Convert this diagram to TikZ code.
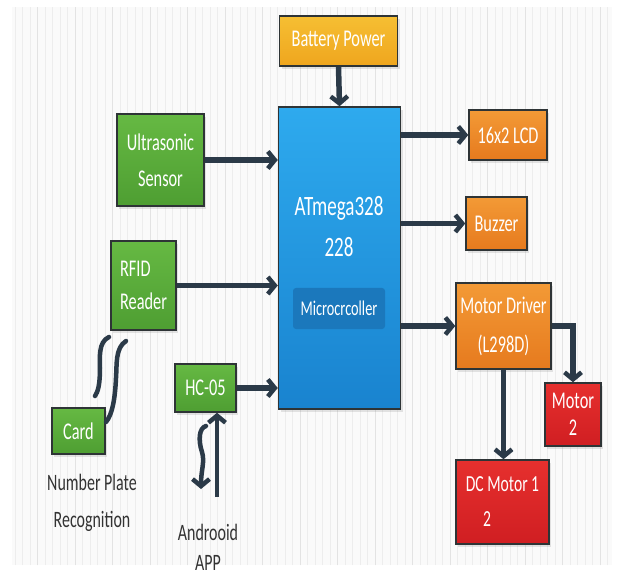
\documentclass[tikz,border=0pt]{standalone}
\usepackage{fontspec}
\setmainfont{Carlito}[FakeStretch=0.68]
\usetikzlibrary{arrows.meta,shadows}
\definecolor{arrowc}{HTML}{2B3A48}
\definecolor{edgec}{HTML}{2E3436}
\tikzset{
  blk/.style={draw=edgec, line width=1.5pt, text=white, align=center, inner sep=0pt,
    font=\fontsize{24}{34}\selectfont,
    drop shadow={opacity=0.2, shadow xshift=2pt, shadow yshift=-3pt}},
  greenbox/.style={blk, top color=green1, bottom color=green2},
  orangebox/.style={blk, top color=orange1, bottom color=orange2},
  yellowbox/.style={blk, top color=yellow1, bottom color=yellow2},
  redbox/.style={blk, top color=red1, bottom color=red2},
  arr/.style={draw=arrowc, line width=5.5pt, -{Straight Barb[length=7pt,width=17pt,line width=4.5pt]}},
  wire/.style={draw=arrowc, line width=4.5pt, line cap=round},
  lbl/.style={text=black!80, align=center, font=\fontsize{23.5}{37}\selectfont},
}
\definecolor{green1}{HTML}{66B943}
\definecolor{green2}{HTML}{4E9E32}
\definecolor{orange1}{HTML}{F39A36}
\definecolor{orange2}{HTML}{E67A1E}
\definecolor{yellow1}{HTML}{F6BF33}
\definecolor{yellow2}{HTML}{EFA61E}
\definecolor{red1}{HTML}{E6302E}
\definecolor{red2}{HTML}{D01E22}
\definecolor{blue1}{HTML}{2EAAEE}
\definecolor{blue2}{HTML}{1983CF}
\definecolor{blue3}{HTML}{1B78BC}
\begin{document}
\begin{tikzpicture}[x=1pt,y=-1pt]
\useasboundingbox (0,0) rectangle (621,577);
\fill[white] (0,0) rectangle (621,577);
\fill[black!2] (12,7) rectangle (612,565);
\draw[black!7, line width=0.4pt] (12,7) grid[step=7.5] (612,565);
\draw[black!11, line width=0.5pt] (12,7) grid[step=37.5] (612,565);

% nodes
\node[yellowbox, minimum width=118, minimum height=50] (bat) at (338.5,41) {Battery Power};
\node[blk, top color=blue1, bottom color=blue2, minimum width=122, minimum height=302] (mcu) at (339.5,258) {};
\node[text=white, align=center, font=\fontsize{28}{41}\selectfont] (mcutxt) at (339,227) {ATmega328\\228};
\node[fill=blue3, rounded corners=3pt, text=white, minimum width=92, minimum height=41, inner sep=0pt,
      font=\fontsize{21}{24}\selectfont] (micro) at (339,308.5) {Microcrcoller};
\node[greenbox, minimum width=87, minimum height=92, font=\fontsize{24}{36}\selectfont] (us) at (160.5,160) {Ultrasonic\\Sensor};
\node[greenbox, minimum width=65, minimum height=89, align=left, font=\fontsize{24}{33}\selectfont] (rfid) at (143.5,285.5) {RFID\\Reader};
\node[greenbox, minimum width=61, minimum height=48] (hc) at (205.5,388) {HC-05};
\node[greenbox, minimum width=53, minimum height=46] (card) at (78.5,431) {Card};
\node[orangebox, minimum width=78, minimum height=50] (lcd) at (508,135) {16x2 LCD};
\node[orangebox, minimum width=61, minimum height=53] (buz) at (496.5,223.5) {Buzzer};
\node[orangebox, minimum width=95, minimum height=86, font=\fontsize{24}{39}\selectfont] (md) at (503.5,326) {Motor Driver\\(L298D)};
\node[redbox, minimum width=56, minimum height=63, font=\fontsize{24}{27}\selectfont] (m2) at (573,414.5) {Motor\\2};
\node[redbox, minimum width=93, minimum height=84, align=left, font=\fontsize{23}{35}\selectfont] (dc) at (502.5,502) {DC Motor 1\\\hspace*{0.75em}2};
\node[lbl] (npr) at (92,503) {Number Plate\\Recognition};
\node[lbl, font=\fontsize{23.5}{30}\selectfont] (app) at (208,547) {Androoid\\APP};

% connectors
\draw[arr] (bat.south) -- (mcu.north);
\draw[arr] (us.east) -- (us.east -| mcu.west);
\draw[arr] (rfid.east) -- (rfid.east -| mcu.west);
\draw[arr] (hc.east) -- (hc.east -| mcu.west);
\draw[arr] (mcu.east |- lcd.west) -- (lcd.west);
\draw[arr] (mcu.east |- buz.west) -- (buz.west);
\draw[arr] (mcu.east |- md.west) -- (md.west);
\draw[arr] (md.east) -| (m2.north);
\draw[arr] (md.south) -- (md.south |- dc.north);

% RFID <-> card squiggles
\coordinate (r1) at (109,337);
\coordinate (c1) at (95,396);
\coordinate (r2) at (126,341);
\coordinate (c2) at (106,422);
\draw[wire] (r1) .. controls (98,342) and (100,358) .. (100,368) .. controls (100,384) and (98,392) .. (c1);
\draw[wire] (r2) .. controls (115,348) and (117,365) .. (116,378) .. controls (115,400) and (112,415) .. (c2);

% HC-05 <-> Android
\coordinate (s1) at (206,426);
\coordinate (s2) at (201,489);
\draw[arr, line width=4.5pt, line cap=round] (s1) .. controls (199,428) and (198,440) .. (202,452) .. controls (205,462) and (201,470) .. (s2);
\coordinate (u1) at (217,497);
\draw[arr, line width=4.5pt] (u1) -- (u1 |- hc.south);
\end{tikzpicture}
\end{document}
